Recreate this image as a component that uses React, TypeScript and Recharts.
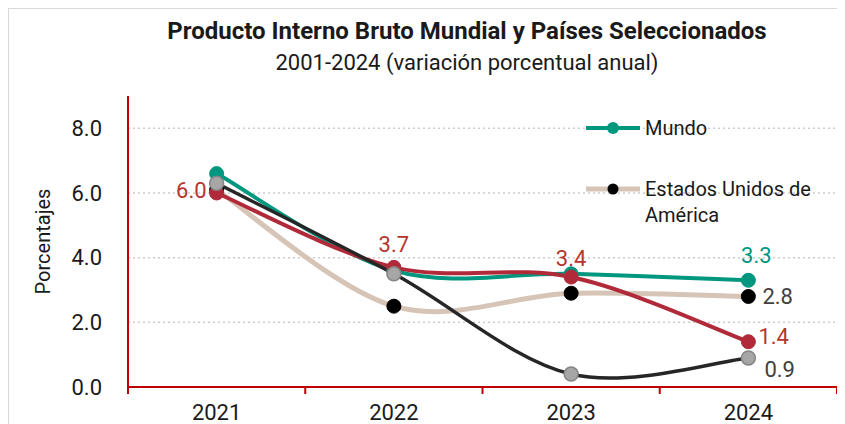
import React from 'react'
import {
  LineChart,
  Line,
  XAxis,
  YAxis,
  CartesianGrid,
  Legend,
  LabelList,
} from 'recharts'

// datos (variación % anual)
const years = ['2021', '2022', '2023', '2024']
const mundo = [6.6, 3.6, 3.5, 3.3]
const eua = [6.1, 2.5, 2.9, 2.8]
const mexico = [6.0, 3.7, 3.4, 1.4]
const zonaEuro = [6.3, 3.5, 0.4, 0.9]
const yTicks = [0, 2, 4, 6, 8]
const gridValues = [2, 4, 6, 8]
const legendOrder = ['mundo', 'eua']

const FONT = 'Roboto, "Noto Sans", sans-serif'
const AXIS_RED = '#c00000'
const TEAL = '#00977f'
const RED = '#b12a3a'
const BEIGE = '#d6c5b7'
const BLACK = '#262626'
const GRAY = '#a6a6a6'

const CHART_W = 836
const CHART_H = 415
const MARGIN = { top: 87, right: 8, bottom: 0, left: 0 }
const Y_W = 119
const PLOT_W = CHART_W - MARGIN.left - MARGIN.right - Y_W

const chartData = years.map((year, i) => ({
  year,
  mundo: mundo[i],
  eua: eua[i],
  mexico: mexico[i],
  zonaEuro: zonaEuro[i],
}))

// suavizado tipo Excel (Catmull-Rom)
const smoothCurve = (context: any) => {
  let pts: [number, number][] = []
  return {
    areaStart() {},
    areaEnd() {},
    lineStart() {
      pts = []
    },
    point(x: number, y: number) {
      pts.push([+x, +y])
    },
    lineEnd() {
      if (!pts.length) return
      context.moveTo(pts[0][0], pts[0][1])
      for (let i = 0; i < pts.length - 1; i++) {
        const p0 = pts[Math.max(i - 1, 0)]
        const p1 = pts[i]
        const p2 = pts[i + 1]
        const p3 = pts[Math.min(i + 2, pts.length - 1)]
        context.bezierCurveTo(
          p1[0] + (p2[0] - p0[0]) / 6,
          p1[1] + (p2[1] - p0[1]) / 6,
          p2[0] - (p3[0] - p1[0]) / 6,
          p2[1] - (p3[1] - p1[1]) / 6,
          p2[0],
          p2[1]
        )
      }
    },
  }
}

// posición de etiquetas por serie (null = sin etiqueta)
type LabelPos = { dx: number; dy: number; anchor: 'start' | 'middle' | 'end' } | null
const labelPos: Record<string, LabelPos[]> = {
  mexico: [
    { dx: -10, dy: -3, anchor: 'end' },
    { dx: 0, dy: -23, anchor: 'middle' },
    { dx: 0, dy: -19, anchor: 'middle' },
    { dx: 10, dy: -5, anchor: 'start' },
  ],
  mundo: [null, null, null, { dx: 8, dy: -25, anchor: 'middle' }],
  eua: [null, null, null, { dx: 14, dy: 0, anchor: 'start' }],
  zonaEuro: [null, null, null, { dx: 16, dy: 12, anchor: 'start' }],
}

const makeLabel = (key: string, color: string) => (props: any) => {
  const pos = labelPos[key][props.index]
  if (!pos) return null
  const x = props.x ?? props.viewBox?.x
  const y = props.y ?? props.viewBox?.y
  return (
    <text
      x={x + pos.dx}
      y={y + pos.dy}
      textAnchor={pos.anchor}
      dominantBaseline="central"
      fill={color}
      fontSize={22}
      fontFamily={FONT}
    >
      {Number(props.value).toFixed(1)}
    </text>
  )
}

const YearTick = (props: any) => {
  const { x, y, payload, index } = props
  const half = PLOT_W / years.length / 2
  return (
    <g>
      <line x1={x - half} x2={x - half} y1={y} y2={y + 7} stroke={AXIS_RED} strokeWidth={2} />
      {index === years.length - 1 && (
        <line x1={x + half} x2={x + half} y1={y} y2={y + 7} stroke={AXIS_RED} strokeWidth={2} />
      )}
      <text x={x} y={y + 33} textAnchor="middle" fill="#1a1a1a" fontSize={22} fontFamily={FONT}>
        {payload.value}
      </text>
    </g>
  )
}

const dotFill: Record<string, string> = { mundo: TEAL, eua: '#000000' }

const renderLegend = (props: any) => {
  const items = (props.payload ?? [])
    .filter((e: any) => legendOrder.includes(e.dataKey))
    .sort((a: any, b: any) => legendOrder.indexOf(a.dataKey) - legendOrder.indexOf(b.dataKey))
  return (
    <div style={{ fontFamily: FONT, fontSize: 20, color: '#1a1a1a' }}>
      {items.map((e: any, i: number) => (
        <div key={e.value} style={{ display: 'flex', alignItems: 'flex-start', marginTop: i ? 35 : 0 }}>
          <svg width={54} height={26} style={{ flex: 'none' }}>
            <line x1={0} x2={54} y1={13} y2={13} stroke={e.color} strokeWidth={e.dataKey === 'eua' ? 5 : 4} />
            <circle cx={27} cy={13} r={e.dataKey === 'eua' ? 5.5 : 6} fill={dotFill[e.dataKey]} />
          </svg>
          <span style={{ marginLeft: 5, lineHeight: '26px', width: 185 }}>{e.value}</span>
        </div>
      ))}
    </div>
  )
}

export default function App() {
  return (
    <div
      style={{
        position: 'relative',
        width: CHART_W,
        height: CHART_H,
        borderTop: '1px solid #d9d9d9',
        borderLeft: '1px solid #d9d9d9',
        fontFamily: FONT,
      }}
    >
      <div
        style={{
          position: 'absolute',
          left: 458,
          top: 8,
          transform: 'translateX(-50%)',
          whiteSpace: 'nowrap',
          fontSize: 24,
          fontWeight: 700,
          color: '#1a1a1a',
          lineHeight: '28px',
        }}
      >
        Producto Interno Bruto Mundial y Países Seleccionados
      </div>
      <div
        style={{
          position: 'absolute',
          left: 458,
          top: 41,
          transform: 'translateX(-50%)',
          whiteSpace: 'nowrap',
          fontSize: 22,
          color: '#1a1a1a',
          lineHeight: '26px',
        }}
      >
        2001-2024 (variación porcentual anual)
      </div>
      <div style={{ position: 'absolute', left: 0, top: 0 }}>
        <LineChart width={CHART_W} height={CHART_H} data={chartData} margin={MARGIN}>
          <CartesianGrid
            vertical={false}
            horizontalValues={gridValues}
            stroke="#cccccc"
            strokeWidth={1.5}
            strokeDasharray="2 3"
          />
          <XAxis
            dataKey="year"
            scale="band"
            height={37}
            axisLine={{ stroke: AXIS_RED, strokeWidth: 2 }}
            tickLine={false}
            tickSize={0}
            tickMargin={0}
            interval={0}
            tick={<YearTick />}
          />
          <YAxis
            width={Y_W}
            domain={[0, 9]}
            ticks={yTicks}
            tickFormatter={(v: number) => v.toFixed(1)}
            axisLine={{ stroke: AXIS_RED, strokeWidth: 2 }}
            tickLine={false}
            tickSize={0}
            tickMargin={26}
            tick={{ fill: '#1a1a1a', fontSize: 22, fontFamily: FONT }}
            label={{
              value: 'Porcentajes',
              angle: -90,
              position: 'insideLeft',
              offset: 34,
              style: { textAnchor: 'middle', fill: '#1a1a1a', fontSize: 20, fontFamily: FONT },
            }}
          />
          <Legend
            layout="vertical"
            align="center"
            verticalAlign="middle"
            wrapperStyle={{ top: 106, left: 577, width: 260 }}
            content={renderLegend}
          />
          <Line
            dataKey="eua"
            name="Estados Unidos de América"
            type={smoothCurve as any}
            stroke={BEIGE}
            strokeWidth={5}
            dot={{ r: 7, fill: '#000000', stroke: '#000000', strokeWidth: 1 }}
            isAnimationActive={false}
          >
            <LabelList dataKey="eua" content={makeLabel('eua', '#404040')} />
          </Line>
          <Line
            dataKey="mundo"
            name="Mundo"
            type={smoothCurve as any}
            stroke={TEAL}
            strokeWidth={4}
            dot={{ r: 7, fill: TEAL, stroke: TEAL, strokeWidth: 1 }}
            isAnimationActive={false}
          >
            <LabelList dataKey="mundo" content={makeLabel('mundo', TEAL)} />
          </Line>
          <Line
            dataKey="mexico"
            name="México"
            legendType="none"
            type={smoothCurve as any}
            stroke={RED}
            strokeWidth={4}
            dot={{ r: 7, fill: RED, stroke: RED, strokeWidth: 1 }}
            isAnimationActive={false}
          >
            <LabelList dataKey="mexico" content={makeLabel('mexico', '#b5352f')} />
          </Line>
          <Line
            dataKey="zonaEuro"
            name="Zona del Euro"
            legendType="none"
            type={smoothCurve as any}
            stroke={BLACK}
            strokeWidth={3.5}
            dot={{ r: 7, fill: GRAY, stroke: '#858585', strokeWidth: 1.5 }}
            isAnimationActive={false}
          >
            <LabelList dataKey="zonaEuro" content={makeLabel('zonaEuro', '#404040')} />
          </Line>
        </LineChart>
      </div>
    </div>
  )
}
